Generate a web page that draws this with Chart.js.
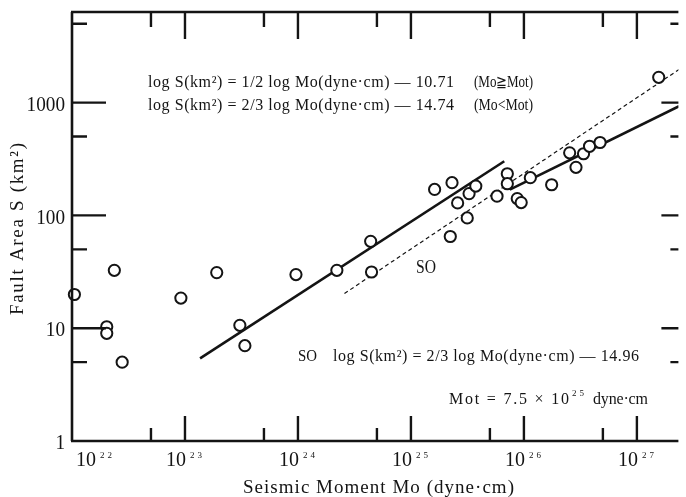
<!DOCTYPE html>
<html>
<head>
<meta charset="utf-8">
<script src="https://cdn.jsdelivr.net/npm/chart.js@4.4.1/dist/chart.umd.min.js"></script>
<style>
  html, body { margin: 0; padding: 0; background: #fff; overflow: hidden; }
  #wrap { width: 686px; height: 497px; }
</style>
</head>
<body>
<div id="wrap"><canvas id="chart" width="686" height="497"></canvas></div>
<script>
// seismic moment (dyne-cm) and fault area (km2)
const moments = [1.05e22, 2.03e22, 2.03e22, 2.37e22, 2.78e22, 9.2e22, 1.91e23, 3.06e23, 3.39e23,
  9.6e23, 2.21e24, 4.4e24, 4.48e24, 1.62e25, 2.23e25, 2.31e25, 2.59e25, 3.15e25, 3.27e25,
  3.75e25, 5.78e25, 7.13e25, 7.13e25, 8.73e25, 9.46e25, 1.14e26, 1.76e26, 2.54e26, 2.89e26,
  3.37e26, 3.81e26, 4.72e26, 1.56e27];
const areas = [19.9, 10.3, 9.0, 32.6, 5.0, 18.5, 31.1, 10.6, 7.0,
  29.9, 32.6, 58.9, 31.5, 170, 65, 195, 129, 95, 156,
  182, 148, 234, 191, 141, 130, 216, 187, 359, 267,
  352, 410, 443, 1675];

// fitted lines, end points
const steepMo = [1.36e23, 6.7e25];   // 2/3 slope, Mo < Mot
const steepS = [5.4, 302];
const flatMo = [7.5e25, 2.36e27];    // 1/2 slope, Mo >= Mot
const flatS = [169, 930];
const soMo = [2.58e24, 2.36e27];     // SO line (dotted)
const soS = [20.3, 1965];

// axis ticks
const xMajor = [1e23, 1e24, 1e25, 1e26, 1e27];
const xMinor = [5e22, 5e23, 5e24, 5e25, 5e26];
const xLabelVals = [1e22, 1e23, 1e24, 1e25, 1e26, 1e27];
const xLabelExps = ['22', '23', '24', '25', '26', '27'];
const yMajor = [10, 100, 1000];
const yMinor = [5, 50, 500, 5000];
const yLabelVals = [1, 10, 100, 1000];
const yLabels = ['1', '10', '100', '1000'];

const FONT = '"Liberation Serif", "DejaVu Serif", serif';
const INK = '#141414';

function toPoints(xs, ys) {
  return xs.map((x, i) => ({ x: x, y: ys[i] }));
}

// draw a string squeezed/stretched to a given width
function fitText(ctx, str, x, y, size, width, align) {
  ctx.save();
  ctx.font = size + 'px ' + FONT;
  ctx.textBaseline = 'middle';
  ctx.textAlign = 'left';
  const w = ctx.measureText(str).width;
  const sx = width ? width / w : 1;
  let left = x;
  if (align === 'right') left = x - w * sx;
  if (align === 'center') left = x - (w * sx) / 2;
  ctx.translate(left, y);
  ctx.scale(sx, 1);
  ctx.fillText(str, 0, 0);
  ctx.restore();
}

// draw a string letter by letter, spread over a width (typewriter look)
function spacedText(ctx, str, left, y, size, width) {
  ctx.save();
  ctx.font = size + 'px ' + FONT;
  ctx.textBaseline = 'middle';
  ctx.textAlign = 'left';
  const chars = Array.from(str);
  const ws = chars.map(c => ctx.measureText(c).width);
  const total = ws.reduce((a, b) => a + b, 0);
  const gap = chars.length > 1 ? (width - total) / (chars.length - 1) : 0;
  let cx = left;
  chars.forEach((c, i) => {
    ctx.fillText(c, cx, y);
    cx += ws[i] + gap;
  });
  ctx.restore();
}

const framePlugin = {
  id: 'frame',
  afterDatasetsDraw(chart) {
    const ctx = chart.ctx;
    const a = chart.chartArea;
    const xs = chart.scales.x;
    const ys = chart.scales.y;
    ctx.save();
    ctx.strokeStyle = INK;
    ctx.lineWidth = 2.6;
    ctx.lineCap = 'butt';

    // left, bottom and top axis lines (right one is off the page)
    ctx.beginPath();
    ctx.moveTo(a.left, a.top);
    ctx.lineTo(a.left, a.bottom);
    ctx.moveTo(a.left - 1, a.bottom);
    ctx.lineTo(a.right, a.bottom);
    ctx.moveTo(a.left - 1, a.top);
    ctx.lineTo(a.right, a.top);
    ctx.stroke();

    ctx.lineWidth = 2.4;
    ctx.beginPath();
    xMajor.forEach(v => {
      const px = xs.getPixelForValue(v);
      ctx.moveTo(px, a.bottom); ctx.lineTo(px, a.bottom - 25);
      ctx.moveTo(px, a.top); ctx.lineTo(px, a.top + 27);
    });
    xMinor.forEach(v => {
      const px = xs.getPixelForValue(v);
      ctx.moveTo(px, a.bottom); ctx.lineTo(px, a.bottom - 13);
      ctx.moveTo(px, a.top); ctx.lineTo(px, a.top + 15);
    });
    yMajor.forEach(v => {
      const py = ys.getPixelForValue(v);
      ctx.moveTo(a.left, py); ctx.lineTo(a.left + 34, py);
      ctx.moveTo(a.right, py); ctx.lineTo(a.right - 17, py);
    });
    yMinor.forEach(v => {
      const py = ys.getPixelForValue(v);
      ctx.moveTo(a.left, py); ctx.lineTo(a.left + 15, py);
      ctx.moveTo(a.right, py); ctx.lineTo(a.right - 8, py);
    });
    ctx.stroke();

    ctx.fillStyle = INK;

    // y tick labels
    yLabelVals.forEach((v, i) => {
      const py = ys.getPixelForValue(v);
      const str = yLabels[i];
      fitText(ctx, str, 65, py + 3, 20, str.length * 9.6, 'right');
    });

    // x tick labels: 10 with a small exponent
    xLabelVals.forEach((v, i) => {
      let px = xs.getPixelForValue(v);
      if (i === 0) px += 23;
      fitText(ctx, '10', px + 1, 461, 20, 20, 'right');
      spacedText(ctx, xLabelExps[i], px + 5, 456, 9, 12);
    });

    // axis titles
    spacedText(ctx, 'Seismic Moment Mo (dyne\u00b7cm)', 243, 488, 19, 271);
    ctx.save();
    ctx.translate(18, 315);
    ctx.rotate(-Math.PI / 2);
    spacedText(ctx, 'Fault Area S (km\u00b2)', 0, 0, 19, 172);
    ctx.restore();

    // equations
    spacedText(ctx, 'log S(km\u00b2) = 1/2 log Mo(dyne\u00b7cm) \u2014 10.71', 148, 83, 16, 306);
    fitText(ctx, '(Mo\u2267Mot)', 474, 83, 16, 59, 'left');
    spacedText(ctx, 'log S(km\u00b2) = 2/3 log Mo(dyne\u00b7cm) \u2014 14.74', 148, 106, 16, 306);
    fitText(ctx, '(Mo<Mot)', 474, 106, 16, 59, 'left');

    fitText(ctx, 'SO', 416, 268, 19, 20, 'left');

    fitText(ctx, 'SO', 298, 357, 16, 19, 'left');
    spacedText(ctx, 'log S(km\u00b2) = 2/3 log Mo(dyne\u00b7cm) \u2014 14.96', 333, 357, 16, 306);

    spacedText(ctx, 'Mot = 7.5 \u00d7 10', 449, 400, 16, 120);
    spacedText(ctx, '25', 572, 394, 9, 12);
    spacedText(ctx, 'dyne\u00b7cm', 593, 400, 16, 55);

    ctx.restore();
  }
};

new Chart(document.getElementById('chart'), {
  type: 'scatter',
  data: {
    datasets: [
      {
        label: 'events',
        data: toPoints(moments, areas),
        pointStyle: 'circle',
        pointRadius: 5.6,
        pointBorderWidth: 2,
        borderColor: INK,
        backgroundColor: '#ffffff',
        clip: false,
        order: 0
      },
      {
        label: 'Mo < Mot',
        data: toPoints(steepMo, steepS),
        showLine: true,
        borderColor: INK,
        borderWidth: 2.6,
        pointRadius: 0,
        order: 1
      },
      {
        label: 'Mo >= Mot',
        data: toPoints(flatMo, flatS),
        showLine: true,
        borderColor: INK,
        borderWidth: 2.6,
        pointRadius: 0,
        order: 1
      },
      {
        label: 'SO',
        data: toPoints(soMo, soS),
        showLine: true,
        borderColor: INK,
        borderWidth: 1.2,
        borderDash: [4, 3],
        pointRadius: 0,
        order: 2
      }
    ]
  },
  options: {
    responsive: false,
    animation: false,
    layout: { padding: { left: 72, right: 0, top: 12, bottom: 56 } },
    plugins: {
      legend: { display: false },
      tooltip: { enabled: false }
    },
    scales: {
      x: { type: 'logarithmic', display: false, min: 1e22, max: 2.33e27 },
      y: { type: 'logarithmic', display: false, min: 1, max: 6358 }
    }
  },
  plugins: [framePlugin]
});
</script>
</body>
</html>
